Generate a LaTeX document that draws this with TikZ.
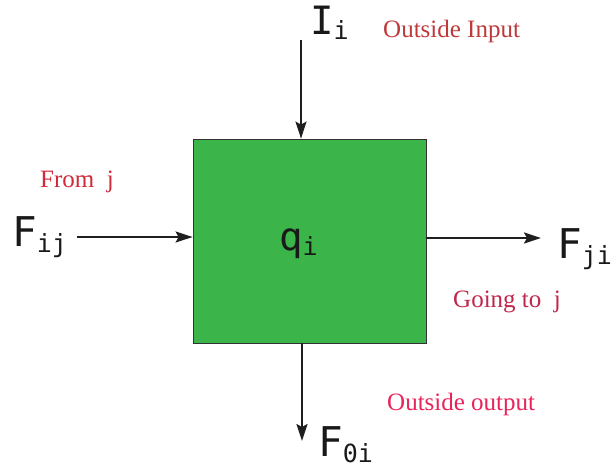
\documentclass[tikz,border=0pt]{standalone}
\usepackage{fontspec}
\setmainfont{Liberation Serif}
\newfontfamily\monofam{DejaVu Sans Mono}
\usetikzlibrary{arrows.meta}

\definecolor{boxgreen}{HTML}{3BB54A}
\definecolor{notein}{HTML}{BE3A3A}
\definecolor{notefrom}{HTML}{D02B3A}
\definecolor{notegoing}{HTML}{C0264A}
\definecolor{noteout}{HTML}{E8245A}

% main symbol with lowered subscript
\newcommand{\flowsym}[4]{{\fontsize{#3}{#3}\selectfont\monofam #1}\raisebox{-0.15\dimexpr#3\relax}{\fontsize{#4}{#4}\selectfont\monofam #2}}

\tikzset{
  flow/.style={-{Stealth[length=17pt, width=11pt, inset=3pt]}, line width=2pt, black!88},
  sym/.style={anchor=base west, inner sep=0pt, text=black!90},
  note/.style={anchor=base west, inner sep=0pt, font=\fontsize{25}{25}\selectfont},
}

\begin{document}
\begin{tikzpicture}[x=1pt, y=-1pt]
\useasboundingbox (0,0) rectangle (612,469);

% the tank
\node[draw=black!80, line width=0.8pt, fill=boxgreen, minimum width=233pt, minimum height=204pt, inner sep=0pt]
  (tank) at (309.5,241) {};
\node[sym] (qi) at (279,250) {\flowsym{q}{i}{39pt}{25pt}};

% flows
\node[sym] (Ii) at (310,34) {\flowsym{I}{i}{39pt}{25pt}};
\node[sym] (Fij) at (12,246) {\flowsym{F}{ij}{41pt}{25pt}};
\node[sym] (Fji) at (557,258) {\flowsym{F}{ji}{41pt}{25pt}};
\node[sym] (F0i) at (318,456) {\flowsym{F}{0i}{41pt}{25pt}};

\coordinate (inTop) at (301,40);
\coordinate (inLeft) at (77,237);
\coordinate (outRight) at (541,238);
\coordinate (outBottom) at (302,441);

\draw[flow] (inTop) -- (inTop |- tank.north);
\draw[flow] (inLeft) -- (tank.west |- inLeft);
\draw[flow] (tank.east |- outRight) -- (outRight);
\draw[flow] (tank.south -| outBottom) -- (outBottom);

% notes
\node[note, text=notein] (noteIn) at (383,37) {Outside Input};
\node[note, text=notefrom] (noteFrom) at (40,187) {From\ \ j};
\node[note, text=notegoing] (noteGoing) at (453,307) {Going to\ \ j};
\node[note, text=noteout] (noteOut) at (387,410) {Outside output};
\end{tikzpicture}
\end{document}
